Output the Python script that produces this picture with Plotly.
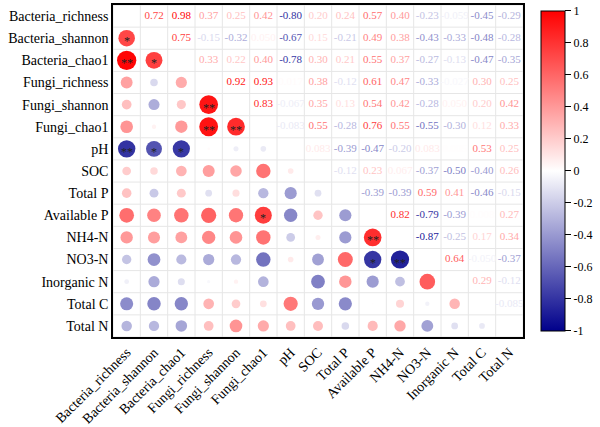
import numpy as np
import plotly.graph_objects as go
from plotly.colors import sample_colorscale

variables = ["Bacteria_richness", "Bacteria_shannon", "Bacteria_chao1", "Fungi_richness",
             "Fungi_shannon", "Fungi_chao1", "pH", "SOC", "Total P", "Available P",
             "NH4-N", "NO3-N", "Inorganic N", "Total C", "Total N"]

# upper-triangle correlations, row by row (values right of the diagonal)
upper_rows = [
    [0.72, 0.98, 0.37, 0.25, 0.42, -0.80, 0.20, 0.24, 0.57, 0.40, -0.23, -0.059, -0.45, -0.29],
    [0.75, -0.15, -0.32, 0.050, -0.67, 0.15, -0.21, 0.49, 0.38, -0.43, -0.33, -0.48, -0.28],
    [0.33, 0.22, 0.40, -0.78, 0.30, 0.21, 0.55, 0.37, -0.27, -0.13, -0.47, -0.35],
    [0.92, 0.93, 0.017, 0.38, -0.12, 0.61, 0.47, -0.33, -0.027, 0.30, 0.25],
    [0.83, -0.067, 0.35, 0.13, 0.54, 0.42, -0.28, 0.050, 0.20, 0.42],
    [-0.083, 0.55, -0.28, 0.76, 0.55, -0.55, -0.30, 0.12, 0.33],
    [0.083, -0.39, -0.47, -0.20, 0.083, 0.005, 0.53, 0.25],
    [-0.12, 0.23, 0.067, -0.37, -0.50, -0.40, 0.26],
    [-0.39, -0.39, 0.59, 0.41, -0.46, -0.15],
    [0.82, -0.79, -0.39, 0.008, 0.27],
    [-0.87, -0.25, 0.17, 0.34],
    [0.64, -0.050, -0.37],
    [0.29, -0.12],
    [-0.085],
]

significance = {
    ("Bacteria_shannon", "Bacteria_richness"): "*",
    ("Bacteria_chao1", "Bacteria_richness"): "**",
    ("Bacteria_chao1", "Bacteria_shannon"): "*",
    ("Fungi_shannon", "Fungi_richness"): "**",
    ("Fungi_chao1", "Fungi_richness"): "**",
    ("Fungi_chao1", "Fungi_shannon"): "**",
    ("pH", "Bacteria_richness"): "**",
    ("pH", "Bacteria_shannon"): "*",
    ("pH", "Bacteria_chao1"): "*",
    ("Available P", "Fungi_chao1"): "*",
    ("NH4-N", "Available P"): "**",
    ("NO3-N", "Available P"): "*",
    ("NO3-N", "NH4-N"): "**",
}

n = len(variables)
R = np.eye(n)
for i, row in enumerate(upper_rows):
    for k, v in enumerate(row):
        j = i + 1 + k
        R[i, j] = v
        R[j, i] = v

scale = [[0.0, "#00008B"], [0.5, "#FFFFFF"], [1.0, "#FF0000"]]
FONT = "Liberation Serif"

def fmt(v):
    return f"{v:.3f}" if abs(v) < 0.1 else f"{v:.2f}"

# lower triangle circles
cx, cy, cv, cs = [], [], [], []
for i in range(n):
    for j in range(i):
        cx.append(j); cy.append(i); cv.append(R[i, j])
        cs.append(19.5 * np.sqrt(abs(R[i, j])))

# upper triangle numbers
tx, ty, tt, tc = [], [], [], []
for i in range(n):
    for j in range(i + 1, n):
        tx.append(j); ty.append(i); tt.append(fmt(R[i, j]))
        tc.append(sample_colorscale(scale, [(R[i, j] + 1) / 2])[0])

fig = go.Figure()
fig.add_trace(go.Scatter(
    x=cx, y=cy, mode="markers", hoverinfo="skip",
    marker=dict(size=cs, color=cv, colorscale=scale, cmin=-1, cmax=1, line=dict(width=0),
                opacity=1, showscale=True,
                colorbar=dict(x=1.043, xanchor="left", y=0.983, yanchor="top",
                              lenmode="pixels", len=320, thickness=24,
                              outlinewidth=1, outlinecolor="black",
                              tickvals=[1, 0.8, 0.6, 0.4, 0.2, 0, -0.2, -0.4, -0.6, -0.8, -1],
                              ticktext=["1", "0.8", "0.6", "0.4", "0.2", "0", "-0.2", "-0.4", "-0.6", "-0.8", "-1"],
                              ticks="outside", ticklen=6, tickcolor="black",
                              tickfont=dict(family=FONT, size=12, color="black"),
                              xpad=0, ypad=0)),
    showlegend=False))
fig.add_trace(go.Scatter(
    x=tx, y=ty, mode="text", text=tt, hoverinfo="skip",
    textfont=dict(family=FONT, size=11, color=tc), showlegend=False))

annotations = []
for (a, b), mark in significance.items():
    i, j = variables.index(a), variables.index(b)
    annotations.append(dict(x=j, y=i, xref="x", yref="y", text=mark, showarrow=False,
                            yshift=-3, font=dict(family=FONT, size=12, color="#222222")))

shapes = []
for k in range(n + 1):
    shapes.append(dict(type="line", xref="x", yref="y", x0=k - 0.5, x1=k - 0.5, y0=-0.5, y1=n - 0.5,
                       line=dict(color="#E6E6E6", width=1), layer="below"))
    shapes.append(dict(type="line", xref="x", yref="y", y0=k - 0.5, y1=k - 0.5, x0=-0.5, x1=n - 0.5,
                       line=dict(color="#E6E6E6", width=1), layer="below"))

fig.update_layout(
    width=600, height=427, margin=dict(l=113, r=77, t=5, b=90, autoexpand=False),
    paper_bgcolor="white", plot_bgcolor="white",
    annotations=annotations, shapes=shapes,
    xaxis=dict(range=[-0.5, n - 0.5], tickmode="array", tickvals=list(range(n)), ticktext=variables,
               tickangle=-45, showgrid=False, zeroline=False, showline=True, mirror=True,
               linecolor="black", linewidth=1.5, ticks="", automargin=False,
               tickfont=dict(family=FONT, size=14, color="black")),
    yaxis=dict(range=[n - 0.5, -0.5], tickmode="array", tickvals=list(range(n)), ticktext=variables,
               showgrid=False, zeroline=False, showline=True, mirror=True,
               linecolor="black", linewidth=1.5, ticks="", automargin=False,
               tickfont=dict(family=FONT, size=14, color="black")),
)

fig.write_html("out.html", config={"displayModeBar": False},
               post_script="document.body.style.margin='0';document.body.style.overflow='hidden';")
